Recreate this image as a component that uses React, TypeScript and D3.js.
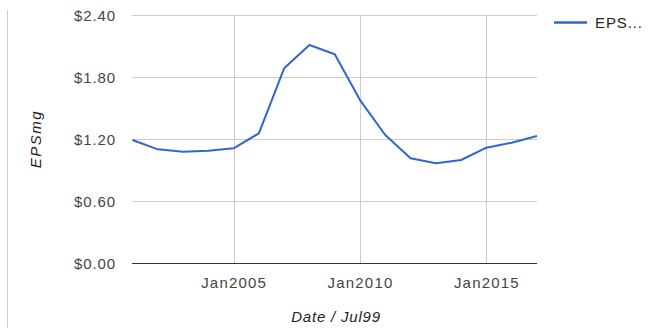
import React from "react";
import * as d3 from "d3";

const years = [2001, 2002, 2003, 2004, 2005, 2006, 2007, 2008, 2009, 2010, 2011, 2012, 2013, 2014, 2015, 2016, 2017];
const eps = [1.19, 1.10, 1.077, 1.087, 1.11, 1.255, 1.884, 2.11, 2.02, 1.577, 1.239, 1.013, 0.965, 0.997, 1.116, 1.164, 1.229];
const yTicks = [0, 0.6, 1.2, 1.8, 2.4];
const xTickYears = [2005, 2010, 2015];
const seriesName = "EPS...";
const xTitle = "Date / Jul99";
const yTitle = "EPSmg";

export default function App() {
  const W = 652, H = 328;
  const x = d3.scaleTime()
    .domain([new Date(2001, 0, 1), new Date(2017, 0, 1)])
    .range([132.5, 537]);
  const y = d3.scaleLinear().domain([0, 2.4]).range([263, 15]);
  const line = d3.line<number>()
    .x((_, i) => x(new Date(years[i], 0, 1)))
    .y((d) => y(d));
  const font = "Arial, 'Liberation Sans', sans-serif";
  return (
    <svg width={W} height={H} style={{ position: "absolute", left: 0, top: 0 }} fontFamily={font}>
      <rect width={W} height={H} fill="#fff" />
      <line x1={7.5} x2={7.5} y1={10} y2={328} stroke="#ccc" strokeWidth={1} />
      {yTicks.filter((t) => t !== 0).map((t) => (
        <line key={t} x1={132} x2={537} y1={Math.round(y(t)) + 0.5} y2={Math.round(y(t)) + 0.5} stroke="#ccc" />
      ))}
      {xTickYears.map((yr) => {
        const px = Math.round(x(new Date(yr, 0, 1))) + 0.5;
        return <line key={yr} x1={px} x2={px} y1={15} y2={263} stroke="#ccc" />;
      })}
      <line x1={132} x2={537} y1={263.5} y2={263.5} stroke="#333" />
      {yTicks.map((t) => (
        <text key={t} x={116} y={y(t) + 5.5} textAnchor="end" fontSize={15} letterSpacing={0.9} fill="#444">
          {d3.format("$.2f")(t)}
        </text>
      ))}
      {xTickYears.map((yr) => (
        <text key={yr} x={x(new Date(yr, 0, 1)) + 0.5} y={288} textAnchor="middle" fontSize={15} letterSpacing={1.2} fill="#444">
          {"Jan" + yr}
        </text>
      ))}
      <path d={line(eps) || ""} fill="none" stroke="#3366cc" strokeWidth={2} strokeLinejoin="round" />
      <text x={336} y={322} textAnchor="middle" fontSize={15} letterSpacing={0.8} fontStyle="italic" fill="#222">{xTitle}</text>
      <text transform={`translate(41,139) rotate(-90)`} textAnchor="middle" fontSize={15} letterSpacing={1.5} fontStyle="italic" fill="#222">{yTitle}</text>
      <line x1={554} x2={587} y1={22.5} y2={22.5} stroke="#3366cc" strokeWidth={2.5} />
      <text x={595} y={28} fontSize={15} letterSpacing={0.9} fill="#222">{seriesName}</text>
    </svg>
  );
}
